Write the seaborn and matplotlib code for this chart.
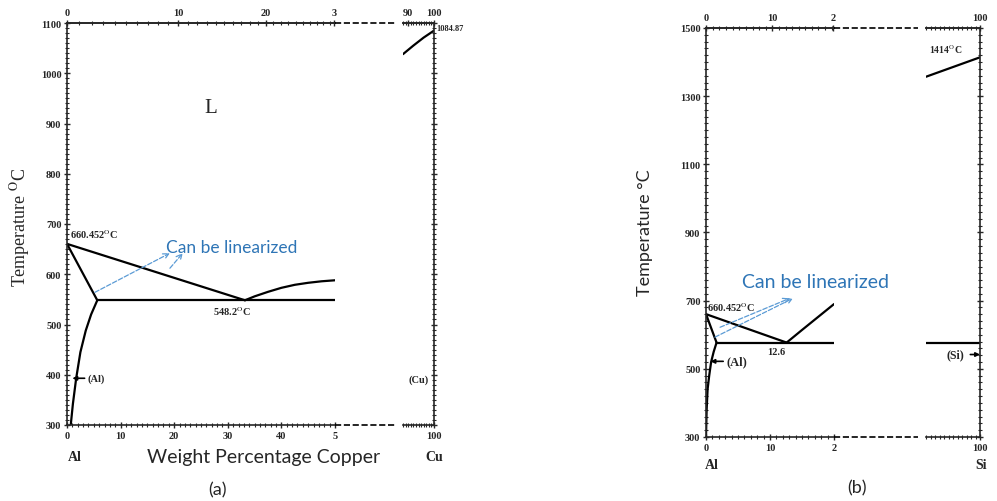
import numpy as np
import matplotlib
matplotlib.use("Agg")
import matplotlib.pyplot as plt
import seaborn as sns
from matplotlib.lines import Line2D
from matplotlib.ticker import MultipleLocator, FixedLocator, NullFormatter

# ---- (a) Al-Cu, weight % Cu / temperature degC ----
cu_liq_wt = [0, 33.2]
cu_liq_T = [660.452, 548.2]
cu_liq2_wt = [33.2, 35, 37.5, 40, 42.5, 45, 47.5, 50]
cu_liq2_T = [548.2, 556, 565, 573, 579, 583, 586, 588]
cu_sol_wt = [0, 5.65]
cu_sol_T = [660.452, 548.2]
cu_solvus_wt = [5.65, 4.5, 3.5, 2.5, 1.7, 1.1, 0.7]
cu_solvus_T = [548.2, 520, 488, 445, 392, 342, 300]
cu_eut_wt = [5.65, 50]
cu_eut_T = [548.2, 548.2]
cu_end_wt = [88, 92, 96, 100]
cu_end_T = [1038, 1055, 1071, 1084.87]

# ---- (b) Al-Si ----
si_liq_wt = [0, 12.6]
si_liq_T = [660.452, 577]
si_liq2_wt = [12.6, 15, 17.5, 20]
si_liq2_T = [577, 614, 652, 690]
si_sol_wt = [0, 1.65]
si_sol_T = [660.452, 577]
si_solvus_wt = [1.65, 1.2, 0.8, 0.5, 0.25, 0.1, 0.0]
si_solvus_T = [577, 550, 520, 480, 440, 380, 300]
si_eut_wt = [1.65, 20]
si_eut_T = [577, 577]
si_end_wt = [88, 100]
si_end_T = [1357, 1414]
si_end_eut_wt = [88, 100]
si_end_eut_T = [577, 577]

# axis ticks (top axes are atomic %, the last label is cut at the frame edge)
cu_xticks = [0, 10, 20, 30, 40, 50]
cu_xlabels = ["0", "10", "20", "30", "40", "5"]
cu_top_at = [0, 10, 20, 29.7]
cu_top_labels = ["0", "10", "20", "3"]
cu_yticks = list(range(300, 1101, 100))
si_xticks = [0, 10, 20]
si_xlabels = ["0", "10", "2"]
si_top_at = [0, 10, 19.2]
si_yticks = list(range(300, 1501, 200))

M_AL, M_CU, M_SI = 26.98, 63.55, 28.09

BLUE = "#2E75B6"
BLUE_ARROW = "#5B9BD5"
SANS = ["Lato", "DejaVu Sans"]

sns.set_style("ticks")
plt.rcParams["font.family"] = ["Liberation Serif", "DejaVu Serif"]
plt.rcParams["mathtext.fontset"] = "stix"
plt.rcParams["axes.linewidth"] = 1.2

fig = plt.figure(figsize=(9.97, 5.02), dpi=100)


def box(l, r, t, b):
    return [l / 997, 1 - b / 502, (r - l) / 997, (b - t) / 502]


def curve(ax, xs, ys):
    sns.lineplot(x=xs, y=ys, ax=ax, color="black", linewidth=1.6,
                 sort=False, estimator=None, legend=False)


def style_ticks(axis_obj):
    axis_obj.tick_params(which="major", direction="inout", length=5, width=1,
                         labelsize=7.5, pad=1.5)
    axis_obj.tick_params(which="minor", direction="inout", length=3, width=0.8)
    plt.setp(axis_obj.get_xticklabels() + axis_obj.get_yticklabels(),
             fontweight="bold")


def wt_to_at(m):
    def f(w):
        w = np.clip(np.asarray(w, dtype=float), 0, 100)
        a = w / m
        b = (100 - w) / M_AL
        return 100 * a / np.maximum(a + b, 1e-12)
    return f


def at_to_wt(m):
    def f(x):
        x = np.clip(np.asarray(x, dtype=float), 0, 100)
        a = x * m
        b = (100 - x) * M_AL
        return 100 * a / np.maximum(a + b, 1e-12)
    return f


# ================= panel (a) =================
ax_a = fig.add_axes(box(67, 335, 24, 426))
for xs, ys in [(cu_liq_wt, cu_liq_T), (cu_liq2_wt, cu_liq2_T), (cu_sol_wt, cu_sol_T),
               (cu_solvus_wt, cu_solvus_T), (cu_eut_wt, cu_eut_T)]:
    curve(ax_a, xs, ys)
ax_a.set_xlim(0, 50)
ax_a.set_ylim(300, 1100)
ax_a.spines["right"].set_visible(False)
ax_a.set_xticks(cu_xticks, cu_xlabels)
ax_a.xaxis.set_minor_locator(MultipleLocator(1))
ax_a.set_yticks(cu_yticks)
ax_a.yaxis.set_minor_locator(MultipleLocator(10))
ax_a.set_xlabel("")
ax_a.set_ylabel("")
style_ticks(ax_a)

top_a = ax_a.secondary_xaxis("top", functions=(wt_to_at(M_CU), at_to_wt(M_CU)))
top_a.set_xticks(cu_top_at, cu_top_labels)
top_a.xaxis.set_minor_locator(FixedLocator(np.arange(0, 30, 1)))
style_ticks(top_a)

ax_a.text(26.9, 932, "L", fontsize=15, ha="center", va="center")
ax_a.text(0.5, 668, "660.452$^{\\rm O}$C", fontsize=7.5, ha="left", va="bottom",
          fontweight="bold")
ax_a.text(30.8, 528, "548.2$^{\\rm O}$C", fontsize=7.5, ha="center", va="center",
          fontweight="bold")
ax_a.annotate("(Al)", xy=(1.0, 393), xytext=(3.9, 393), fontsize=7.5,
              fontweight="bold", va="center", ha="left",
              arrowprops=dict(arrowstyle="-|>", color="black", lw=1.2,
                              mutation_scale=6, shrinkA=0, shrinkB=0))
ax_a.text(18.5, 655, "Can be linearized", color=BLUE, fontsize=12.5,
          family=SANS, ha="left", va="center")
for start, end in [((5.2, 564), (19.2, 642)), ((19.2, 612), (21.6, 642))]:
    ax_a.annotate("", xy=end, xytext=start,
                  arrowprops=dict(arrowstyle="->", color=BLUE_ARROW, lw=0.9,
                                  ls="--", shrinkA=0, shrinkB=0))

# Cu end piece
ax_a2 = fig.add_axes(box(403, 434, 24, 426))
curve(ax_a2, cu_end_wt, cu_end_T)
ax_a2.set_xlim(88, 100)
ax_a2.set_ylim(300, 1100)
ax_a2.spines["left"].set_visible(False)
ax_a2.yaxis.tick_right()
ax_a2.set_yticks(cu_yticks)
ax_a2.yaxis.set_minor_locator(MultipleLocator(10))
ax_a2.yaxis.set_major_formatter(NullFormatter())
ax_a2.set_xticks([100], ["100"])
ax_a2.xaxis.set_minor_locator(MultipleLocator(1))
ax_a2.set_xlabel("")
ax_a2.set_ylabel("")
style_ticks(ax_a2)
ax_a2.tick_params(axis="y", which="both", left=False, right=True)
top_a2 = ax_a2.secondary_xaxis("top")
top_a2.set_xticks([90, 100], ["90", "100"])
top_a2.xaxis.set_minor_locator(MultipleLocator(1))
style_ticks(top_a2)
ax_a2.text(100.8, 1090, "1084.87", fontsize=6, fontweight="bold",
           ha="left", va="center", clip_on=False)
ax_a2.text(94.2, 392, "(Cu)", fontsize=7.5, fontweight="bold",
           ha="center", va="center")

# ================= panel (b) =================
ax_b = fig.add_axes(box(706, 834, 29, 438))
for xs, ys in [(si_liq_wt, si_liq_T), (si_liq2_wt, si_liq2_T), (si_sol_wt, si_sol_T),
               (si_solvus_wt, si_solvus_T), (si_eut_wt, si_eut_T)]:
    curve(ax_b, xs, ys)
ax_b.set_xlim(0, 20)
ax_b.set_ylim(300, 1500)
ax_b.spines["right"].set_visible(False)
ax_b.set_xticks(si_xticks, si_xlabels)
ax_b.xaxis.set_minor_locator(MultipleLocator(1))
ax_b.set_yticks(si_yticks)
ax_b.yaxis.set_minor_locator(MultipleLocator(20))
ax_b.set_xlabel("")
ax_b.set_ylabel("")
style_ticks(ax_b)

top_b = ax_b.secondary_xaxis("top", functions=(wt_to_at(M_SI), at_to_wt(M_SI)))
top_b.set_xticks(si_top_at, si_xlabels)
top_b.xaxis.set_minor_locator(FixedLocator(np.arange(0, 20, 1)))
style_ticks(top_b)

ax_b.text(0.15, 665, "660.452$^{\\rm O}$C", fontsize=7.5, ha="left", va="bottom",
          fontweight="bold")
ax_b.text(10.9, 551, "12.6", fontsize=7.5, ha="center", va="center",
          fontweight="bold")
ax_b.annotate("(Al)", xy=(0.7, 522), xytext=(3.2, 522), fontsize=9,
              fontweight="bold", va="center", ha="left",
              arrowprops=dict(arrowstyle="-|>", color="black", lw=1.2,
                              mutation_scale=6, shrinkA=0, shrinkB=0))
ax_b.text(5.6, 756, "Can be linearized", color=BLUE, fontsize=14,
          family=SANS, ha="left", va="center", clip_on=False)
for start, end in [((1.4, 593), (13.6, 707)), ((2.2, 622), (13.1, 707))]:
    ax_b.annotate("", xy=end, xytext=start,
                  arrowprops=dict(arrowstyle="->", color=BLUE_ARROW, lw=0.9,
                                  ls="--", shrinkA=0, shrinkB=0))

# Si end piece
ax_b2 = fig.add_axes(box(926, 980, 29, 438))
curve(ax_b2, si_end_wt, si_end_T)
curve(ax_b2, si_end_eut_wt, si_end_eut_T)
ax_b2.set_xlim(88, 100)
ax_b2.set_ylim(300, 1500)
ax_b2.spines["left"].set_visible(False)
ax_b2.yaxis.tick_right()
ax_b2.set_yticks(si_yticks)
ax_b2.yaxis.set_minor_locator(MultipleLocator(20))
ax_b2.yaxis.set_major_formatter(NullFormatter())
ax_b2.set_xticks([100], ["100"])
ax_b2.xaxis.set_minor_locator(MultipleLocator(1))
ax_b2.set_xlabel("")
ax_b2.set_ylabel("")
style_ticks(ax_b2)
ax_b2.tick_params(axis="y", which="both", left=False, right=True)
top_b2 = ax_b2.secondary_xaxis("top")
top_b2.set_xticks([100], ["100"])
top_b2.xaxis.set_minor_locator(MultipleLocator(1))
style_ticks(top_b2)
ax_b2.text(92.4, 1440, "1414$^{\\rm O}$C", fontsize=7, fontweight="bold",
           ha="center", va="center")
ax_b2.annotate("(Si)", xy=(100, 542), xytext=(96.5, 542), fontsize=8.5,
               fontweight="bold", va="center", ha="right",
               arrowprops=dict(arrowstyle="-|>", color="black", lw=1.2,
                               mutation_scale=6, shrinkA=2, shrinkB=0))

# dashed connectors between the broken axes
for left_ax, right_ax in [(ax_a, ax_a2), (ax_b, ax_b2)]:
    p1 = left_ax.get_position()
    p2 = right_ax.get_position()
    x0 = p1.x1
    x1 = p2.x0 - 8 / 997
    for yy in (p1.y0, p1.y1):
        fig.add_artist(Line2D([x0, x1], [yy, yy], transform=fig.transFigure,
                              color="black", lw=1.2, ls="--"))

# labels
fig.text(20 / 997, 1 - 227 / 502, "Temperature $^{\\rm O}$C", rotation=90,
         fontsize=13, ha="center", va="center")
fig.text(645 / 997, 1 - 233 / 502, "Temperature \u00b0C", rotation=90,
         fontsize=13, family=SANS, ha="center", va="center")
fig.text(75 / 997, 1 - 458 / 502, "Al", fontsize=10, fontweight="bold",
         ha="center", va="center")
fig.text(434 / 997, 1 - 458 / 502, "Cu", fontsize=10, fontweight="bold",
         ha="center", va="center")
fig.text(264 / 997, 1 - 458 / 502, "Weight Percentage Copper", fontsize=14,
         family=SANS, ha="center", va="center")
fig.text(217 / 997, 1 - 490 / 502, "(a)", fontsize=13, family=SANS,
         ha="center", va="center")
fig.text(712 / 997, 1 - 466 / 502, "Al", fontsize=10, fontweight="bold",
         ha="center", va="center")
fig.text(975 / 997, 1 - 466 / 502, "Si", fontsize=10, fontweight="bold",
         ha="left", va="center")
fig.text(857 / 997, 1 - 488 / 502, "(b)", fontsize=13, family=SANS,
         ha="center", va="center")

fig.savefig("out.png", dpi=100, facecolor="white")
